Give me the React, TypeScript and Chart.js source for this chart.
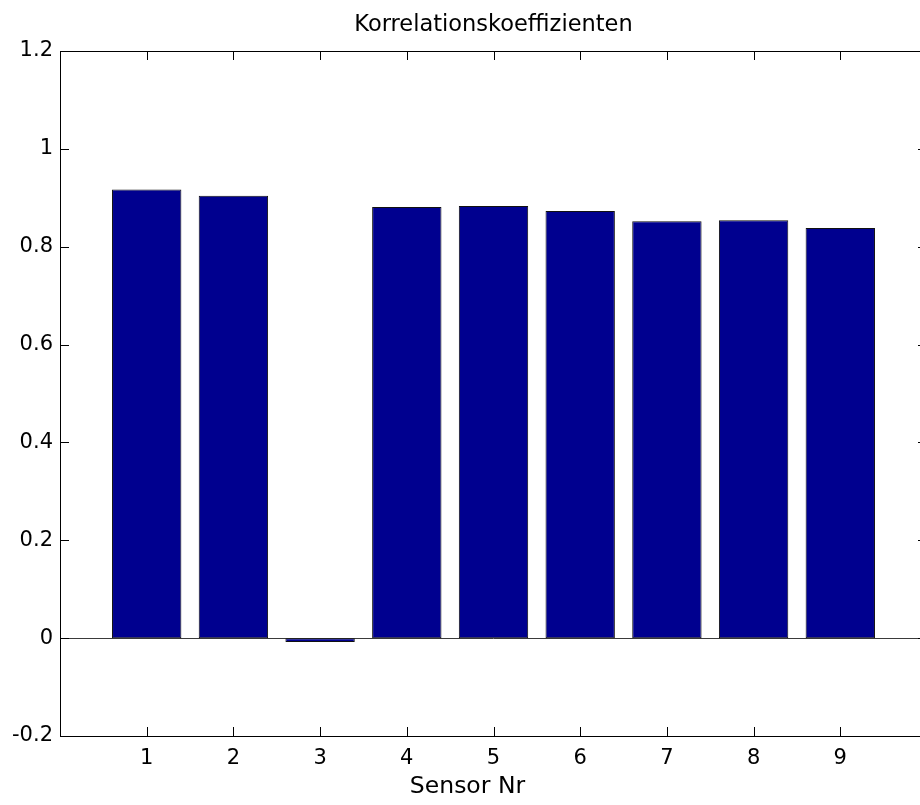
import React, { useEffect, useRef } from "react";
import { Chart, registerables } from "chart.js";

Chart.register(...registerables);

// Correlation coefficient per sensor
const sensors = [1, 2, 3, 4, 5, 6, 7, 8, 9];
const coefficients = [0.917, 0.904, -0.008, 0.881, 0.883, 0.873, 0.852, 0.854, 0.838];
const yTickValues = [-0.2, 0, 0.2, 0.4, 0.6, 0.8, 1, 1.2];
const xLimits = [0, 10];
const yLimits = [-0.2, 1.2];
const chartTitle = "Korrelationskoeffizienten";
const xAxisTitle = "Sensor Nr";

const FONT = "'DejaVu Sans', 'Liberation Sans', sans-serif";
const TICK_LEN = 9;
const CANVAS_W = 940;
const CANVAS_H = 805;
// x-axis label anchor (in x data units) and its distance from the bottom edge
const XLABEL_ANCHOR = 4.7;
const XLABEL_FROM_BOTTOM = 18;

// Draws the boxed axes with inward tick marks on all four sides,
// the bar baseline at y = 0 and the x-axis label.
const framePlugin = {
  id: "boxedAxes",
  beforeDatasetsDraw(chart: any) {
    const { ctx, chartArea: a, scales } = chart;
    const y0 = Math.round(scales.y.getPixelForValue(0)) + 0.5;
    ctx.save();
    ctx.strokeStyle = "#3a3a3a";
    ctx.lineWidth = 1;
    ctx.beginPath();
    ctx.moveTo(a.left, y0);
    ctx.lineTo(a.right, y0);
    ctx.stroke();
    ctx.restore();
  },
  afterDraw(chart: any) {
    const { ctx, chartArea: a, scales } = chart;
    ctx.save();
    ctx.strokeStyle = "#000";
    ctx.lineWidth = 1;
    ctx.strokeRect(a.left + 0.5, a.top + 0.5, a.right - a.left - 1, a.bottom - a.top);
    ctx.beginPath();
    for (const v of yTickValues) {
      const y = Math.round(scales.y.getPixelForValue(v)) + 0.5;
      ctx.moveTo(a.left, y);
      ctx.lineTo(a.left + TICK_LEN, y);
      ctx.moveTo(a.right, y);
      ctx.lineTo(a.right - TICK_LEN, y);
    }
    for (const v of sensors) {
      const x = Math.round(scales.x.getPixelForValue(v)) + 0.5;
      ctx.moveTo(x, a.bottom);
      ctx.lineTo(x, a.bottom - TICK_LEN);
      ctx.moveTo(x, a.top);
      ctx.lineTo(x, a.top + TICK_LEN);
    }
    ctx.stroke();

    ctx.fillStyle = "#000";
    ctx.font = `normal 23.5px ${FONT}`;
    ctx.textAlign = "center";
    ctx.textBaseline = "middle";
    ctx.fillText(
      xAxisTitle,
      scales.x.getPixelForValue(XLABEL_ANCHOR),
      chart.height - XLABEL_FROM_BOTTOM
    );
    ctx.restore();
  },
};

function formatTick(v: number) {
  return String(Number(Number(v).toFixed(1)));
}

export default function App() {
  const canvasRef = useRef<HTMLCanvasElement | null>(null);

  useEffect(() => {
    const canvas = canvasRef.current;
    if (!canvas) return;
    const chart = new Chart(canvas, {
      type: "bar",
      data: {
        datasets: [
          {
            data: sensors.map((s, i) => ({ x: s, y: coefficients[i] })),
            backgroundColor: "#00008F",
            borderColor: "#111111",
            borderWidth: 1,
            borderSkipped: false,
            categoryPercentage: 0.8,
            barPercentage: 1,
          },
        ],
      },
      options: {
        responsive: false,
        animation: false,
        devicePixelRatio: 1,
        layout: { padding: { left: 0, right: 13, top: 0, bottom: 0 } },
        plugins: {
          legend: { display: false },
          tooltip: { enabled: false },
          title: {
            display: true,
            fullSize: false,
            text: chartTitle,
            color: "#000",
            font: { family: FONT, size: 22.5, weight: "normal", lineHeight: 1.2 },
            padding: { top: 12, bottom: 12 },
          },
        },
        scales: {
          x: {
            type: "linear",
            offset: false,
            min: xLimits[0],
            max: xLimits[1],
            afterBuildTicks: (s: any) => {
              s.ticks = sensors.map((v) => ({ value: v }));
            },
            afterFit: (s: any) => {
              s.height = 69;
            },
            grid: { display: false, drawTicks: false, offset: false },
            border: { display: false },
            ticks: {
              color: "#000",
              font: { family: FONT, size: 21 },
              padding: 10,
              maxRotation: 0,
              callback: (v: any) => String(v),
            },
          },
          y: {
            min: yLimits[0],
            max: yLimits[1],
            afterBuildTicks: (s: any) => {
              s.ticks = yTickValues.map((v) => ({ value: v }));
            },
            afterFit: (s: any) => {
              s.width = 60;
            },
            grid: { display: false, drawTicks: false },
            border: { display: false },
            ticks: {
              color: "#000",
              font: { family: FONT, size: 21 },
              padding: 7,
              callback: (v: any) => formatTick(v),
            },
          },
        },
      },
      plugins: [framePlugin],
    } as any);
    return () => chart.destroy();
  }, []);

  return (
    <div
      style={{
        position: "fixed",
        left: 0,
        top: 0,
        width: 920,
        height: 805,
        overflow: "hidden",
        background: "#fff",
      }}
    >
      <canvas
        ref={canvasRef}
        width={CANVAS_W}
        height={CANVAS_H}
        style={{ width: CANVAS_W, height: CANVAS_H, display: "block" }}
      />
    </div>
  );
}
